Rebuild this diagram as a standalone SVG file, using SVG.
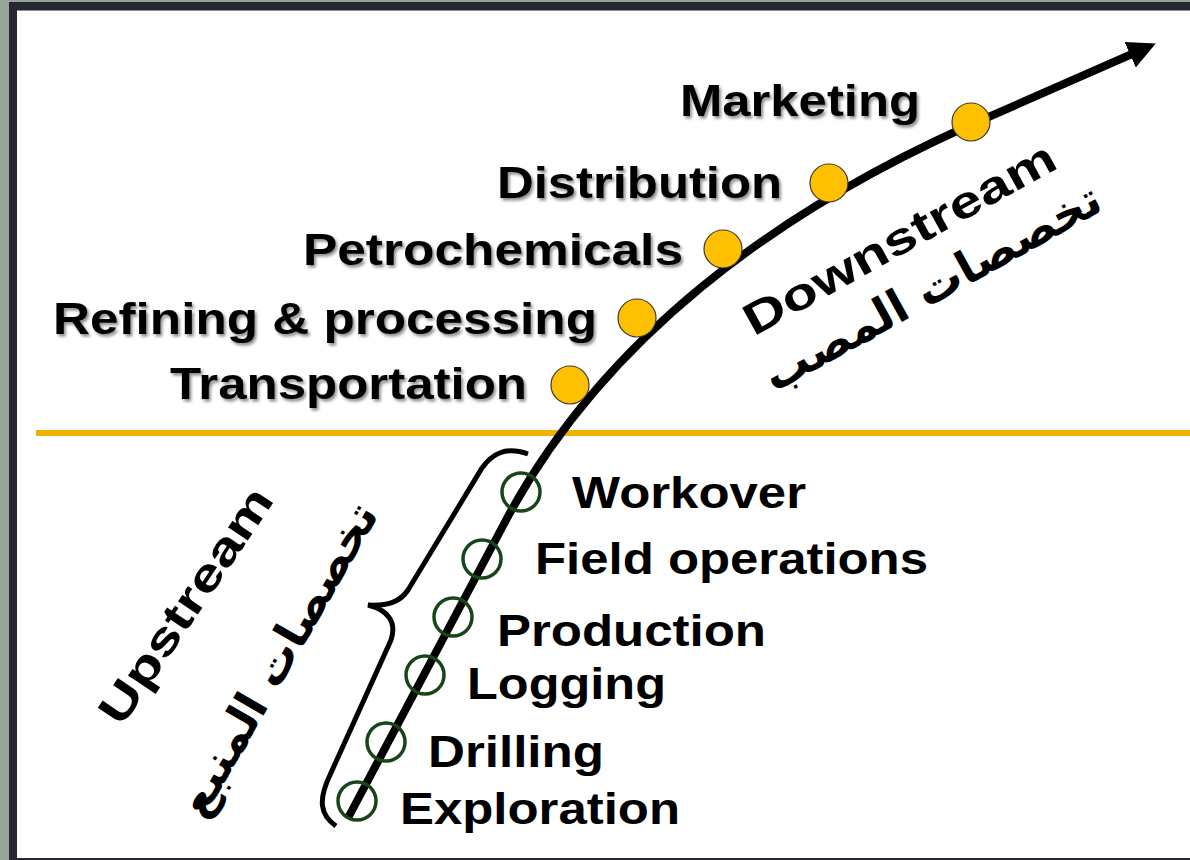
<svg xmlns="http://www.w3.org/2000/svg" width="1190" height="860" viewBox="0 0 1190 860">
  <style>
    .lbl { font-family: "Liberation Sans", Arial, sans-serif; font-weight: bold; font-size: 45px; fill: #000; }
    .ar { font-family: "DejaVu Sans", sans-serif; font-weight: bold; font-size: 46px; fill: #000; }
    .dot { fill: #FFC000; stroke: #3a3a3a; stroke-width: 1.2; }
    .ring { fill: none; stroke: #17451a; stroke-width: 3.5; }
  </style>
  <defs>
    <filter id="sh" x="-5%" y="-20%" width="115%" height="150%">
      <feDropShadow dx="2" dy="2.5" stdDeviation="1.5" flood-color="#000" flood-opacity="0.45"/>
    </filter>
    <marker id="ah" markerUnits="userSpaceOnUse" markerWidth="30" markerHeight="30" refX="2" refY="14" orient="auto" viewBox="0 0 30 28">
      <path d="M0,0 L28,14 L0,28 z" fill="#000"/>
    </marker>
  </defs>

  <!-- frame -->
  <rect x="0" y="0" width="1190" height="860" fill="#96a598"/>
  <rect x="9" y="2" width="1181" height="858" fill="#272731"/>
  <rect x="17" y="10" width="1173" height="1" fill="#8a8a90"/>
  <rect x="17" y="11" width="1173" height="847" fill="#fff"/>

  <!-- separator -->
  <line x1="36" y1="433" x2="1190" y2="433" stroke="#F2B000" stroke-width="6"/>

  <g id="connectors">
    <path id="value-chain" d="M 348 818 L 505 522 C 598.8 345.4, 770 209, 1000 112 L 1132 54" fill="none" stroke="#000" stroke-width="8" marker-end="url(#ah)"/>
    <path id="upstream-brace" d="M 528 454 C 505 446, 492 454, 482 468 L 408 590 C 400 602, 388 606, 368 605 C 388 610, 397 622, 391 640 L 330 775 C 318 800, 320 815, 336 826" fill="none" stroke="#000" stroke-width="5"/>
  </g>

  <g id="downstream-nodes">
    <g id="marketing"><circle class="dot" cx="971" cy="122" r="19"/><text class="lbl" x="680" y="116" textLength="240" lengthAdjust="spacingAndGlyphs" filter="url(#sh)">Marketing</text></g>
    <g id="distribution"><circle class="dot" cx="829" cy="183" r="19"/><text class="lbl" x="497" y="198" textLength="285" lengthAdjust="spacingAndGlyphs" filter="url(#sh)">Distribution</text></g>
    <g id="petrochemicals"><circle class="dot" cx="723" cy="249" r="19"/><text class="lbl" x="303" y="265" textLength="380" lengthAdjust="spacingAndGlyphs" filter="url(#sh)">Petrochemicals</text></g>
    <g id="refining"><circle class="dot" cx="637" cy="318" r="19"/><text class="lbl" x="53" y="334" textLength="544" lengthAdjust="spacingAndGlyphs" filter="url(#sh)">Refining &amp; processing</text></g>
    <g id="transportation"><circle class="dot" cx="570" cy="385" r="19"/><text class="lbl" x="170" y="399" textLength="357" lengthAdjust="spacingAndGlyphs" filter="url(#sh)">Transportation</text></g>
  </g>

  <g id="upstream-nodes">
    <g id="workover"><circle class="ring" cx="521" cy="492" r="19"/><text class="lbl" x="572" y="508" textLength="234" lengthAdjust="spacingAndGlyphs">Workover</text></g>
    <g id="field-operations"><circle class="ring" cx="482" cy="559" r="19"/><text class="lbl" x="535" y="574" textLength="393" lengthAdjust="spacingAndGlyphs">Field operations</text></g>
    <g id="production"><circle class="ring" cx="453" cy="617" r="19"/><text class="lbl" x="497" y="646" textLength="269" lengthAdjust="spacingAndGlyphs">Production</text></g>
    <g id="logging"><circle class="ring" cx="425" cy="675" r="19"/><text class="lbl" x="467" y="699" textLength="199" lengthAdjust="spacingAndGlyphs">Logging</text></g>
    <g id="drilling"><circle class="ring" cx="386" cy="742" r="19"/><text class="lbl" x="428" y="767" textLength="176" lengthAdjust="spacingAndGlyphs">Drilling</text></g>
    <g id="exploration"><circle class="ring" cx="357" cy="801" r="19"/><text class="lbl" x="400" y="824" textLength="280" lengthAdjust="spacingAndGlyphs">Exploration</text></g>
  </g>

  <g id="downstream-label" transform="translate(899,238) rotate(-29)">
    <text class="lbl" x="0" y="16" text-anchor="middle" textLength="350" lengthAdjust="spacingAndGlyphs">Downstream</text>
  </g>
  <g id="downstream-ar" transform="translate(928,280) rotate(-29)">
    <text class="ar" x="0" y="24" text-anchor="middle" direction="rtl">تخصصات المصب</text>
  </g>
  <g id="upstream-label" transform="translate(185,605) rotate(-56)">
    <text class="lbl" x="0" y="16" text-anchor="middle" textLength="275" lengthAdjust="spacingAndGlyphs">Upstream</text>
  </g>
  <g id="upstream-ar" transform="translate(274,657) rotate(-60)">
    <text class="ar" x="0" y="20" text-anchor="middle" direction="rtl">تخصصات المنبع</text>
  </g>
</svg>
